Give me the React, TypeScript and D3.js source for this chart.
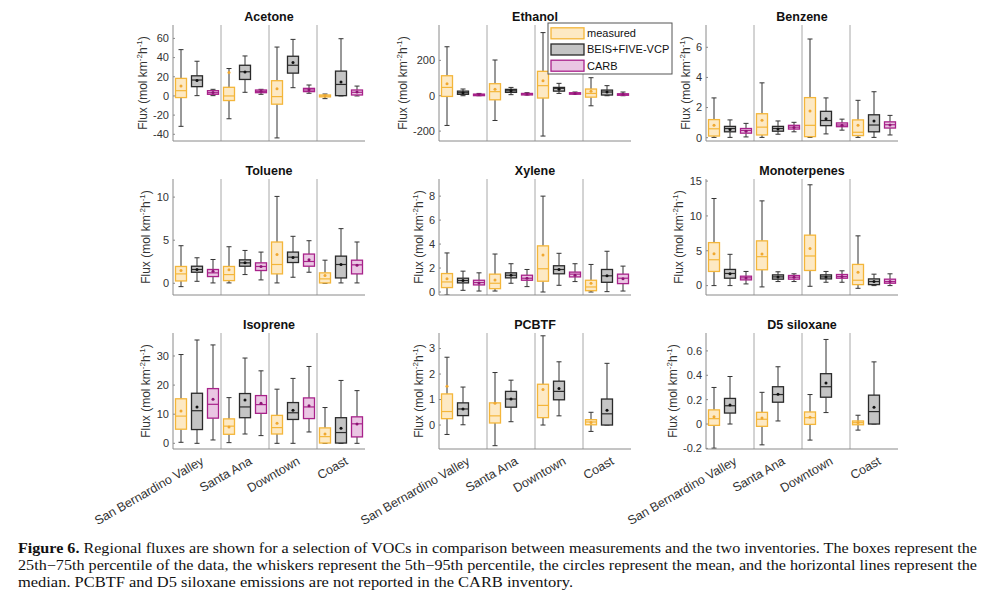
import React from "react";
import * as d3 from "d3";

const regions = ["San Bernardino Valley", "Santa Ana", "Downtown", "Coast"];
const seriesNames = ["measured", "BEIS+FIVE-VCP", "CARB"];

// each row: [p5, q1, median, q3, p95, mean] per region
const acetoneMeasured = [[-31.7, -1.7, 5.5, 18.3, 48.3, 10.3], [-23.8, -4.8, 0, 9, 28.6, 24.5], [-43.8, -8.6, -0.7, 15.9, 51, 7.6], [-2.8, -1, 0, 1, 2, 0.3]];
const acetoneBeis = [[0.3, 9.7, 16.6, 21, 36.2, 16.2], [3.8, 17.2, 25.2, 32, 41.7, 25], [8.6, 23.8, 32, 41.4, 59, 34.8], [0, 0.3, 12, 25.9, 59.7, 14.5]];
const acetoneCarb = [[0.3, 1.7, 3.4, 5.5, 6.9, 3.5], [1.7, 3.4, 4.8, 6.2, 6.9, 4.8], [2.8, 4.5, 6.2, 7.9, 11.4, 6.5], [0, 1, 3.8, 6.2, 10.3, 4.2]];

const ethanolMeasured = [[-168, -4, 47, 113, 277, 68], [-140, -23, 23, 68, 202, 36], [-228, -13, 57, 138, 357, 85], [-57, -8, 13, 38, 102, 25]];
const ethanolBeis = [[0, 8, 17, 26, 38, 17], [6, 19, 28, 36, 47, 28], [13, 26, 42, 47, 70, 37], [0, 4, 21, 32, 57, 21]];
const ethanolCarb = [[0, 4, 7, 9, 13, 7], [4, 8, 9, 13, 17, 10], [8, 9, 13, 17, 21, 13], [0, 4, 8, 11, 21, 8]];

const benzeneMeasured = [[0.02, 0.11, 0.59, 1.2, 2.64, 0.82], [0.02, 0.18, 0.7, 1.59, 3.64, 1.16], [0.02, 0.07, 0.82, 2.66, 6.55, 1.77], [0.02, 0.14, 0.36, 1.18, 2.48, 0.82]];
const benzeneBeis = [[0.02, 0.39, 0.61, 0.75, 1.18, 0.55], [0.23, 0.43, 0.61, 0.75, 1.11, 0.58], [0.25, 0.8, 1.14, 1.75, 2.64, 1.25], [0.02, 0.39, 0.84, 1.52, 3.05, 1.11]];
const benzeneCarb = [[0.05, 0.3, 0.48, 0.61, 0.95, 0.42], [0.39, 0.57, 0.7, 0.82, 1.02, 0.68], [0.5, 0.73, 0.84, 0.98, 1.23, 0.82], [0.18, 0.64, 0.86, 1.05, 1.48, 0.84]];

const tolueneMeasured = [[-0.39, 0.27, 1.09, 1.95, 4.36, 1.48], [0.04, 0.31, 1.01, 1.95, 4.24, 1.56], [0.04, 1.09, 2.18, 4.79, 10.08, 3.35], [0, 0.04, 0.51, 1.21, 2.68, 0.89]];
const tolueneBeis = [[0.23, 1.28, 1.6, 1.98, 2.96, 1.6], [1.01, 1.98, 2.37, 2.72, 3.81, 2.37], [0.7, 2.41, 3.03, 3.62, 5.45, 3.0], [0.04, 0.62, 2.18, 3.15, 6.34, 2.18]];
const tolueneCarb = [[0.04, 0.78, 1.21, 1.6, 2.76, 1.4], [0.39, 1.48, 1.95, 2.37, 3.62, 1.95], [1.28, 1.98, 2.53, 3.39, 4.94, 2.72], [0.04, 1.09, 2.14, 2.68, 4.79, 2.1]];

const xyleneMeasured = [[-0.25, 0.37, 0.84, 1.54, 3.26, 1.1], [0.08, 0.28, 0.73, 1.49, 3.17, 1.0], [0, 0.9, 1.94, 3.85, 8.0, 3.09], [0, 0.11, 0.42, 0.98, 2.3, 0.73]];
const xyleneBeis = [[0.14, 0.76, 0.96, 1.15, 1.74, 0.96], [0.73, 1.18, 1.4, 1.6, 2.36, 1.4], [0.56, 1.52, 1.88, 2.19, 3.23, 1.88], [0.03, 0.81, 1.35, 1.88, 3.4, 1.35]];
const xyleneCarb = [[0.08, 0.59, 0.79, 0.98, 1.6, 0.76], [0.45, 0.98, 1.15, 1.4, 1.88, 1.15], [0.87, 1.26, 1.49, 1.66, 2.36, 1.4], [0.08, 0.7, 1.15, 1.49, 2.16, 1.1]];

const monoMeasured = [[0, 2.03, 3.71, 6.17, 12.5, 4.58], [-0.19, 2.27, 4.15, 6.42, 12.16, 4.53], [-0.1, 2.17, 4.25, 7.24, 14.47, 5.31], [-0.39, 0.14, 0.77, 3.04, 7.14, 1.93]];
const monoBeis = [[0, 1.06, 1.74, 2.32, 4.49, 1.7], [0.58, 0.92, 1.25, 1.54, 1.98, 1.25], [0.48, 0.96, 1.25, 1.54, 2.03, 1.25], [0, 0.14, 0.58, 0.96, 1.64, 0.58]];
const monoCarb = [[0.24, 0.82, 1.11, 1.35, 2.03, 1.1], [0.58, 0.92, 1.21, 1.45, 1.69, 1.2], [0.48, 1.06, 1.3, 1.59, 2.12, 1.3], [0, 0.34, 0.58, 0.92, 1.69, 0.6]];

const isopreneMeasured = [[0.35, 4.85, 9.35, 15.3, 30.5, 11.1], [0.23, 3.1, 5.9, 8.4, 15.7, 5.65], [0, 3.2, 5.4, 9.6, 18.6, 6.9], [0, 0.1, 2.3, 5.3, 12.3, 3.2]];
const isopreneBeis = [[0, 4.73, 11.2, 17.2, 35.5, 12.5], [3.2, 8.8, 12.5, 17.1, 29.3, 14.9], [0, 8.2, 10.5, 14, 22.3, 11.4], [0, 0.1, 3.7, 8.8, 21.6, 5.2]];
const isopreneCarb = [[1.15, 8.65, 13.4, 18.8, 33.8, 15.1], [2.65, 10.3, 13.3, 16.4, 24.9, 13.8], [3.9, 8.5, 12.5, 15.6, 26.4, 12.9], [0, 2.2, 6.7, 9.1, 18.1, 6.6]];

const pcbtfMeasured = [[-0.37, 0.25, 0.53, 1.22, 2.66, 1.52], [-0.81, 0.08, 0.36, 0.87, 2.06, 0.85], [0, 0.29, 0.77, 1.6, 3.5, 1.39], [-0.25, 0.01, 0.12, 0.21, 0.5, 0.1]];
const pcbtfBeis = [[0.01, 0.37, 0.63, 0.87, 1.49, 0.63], [0.13, 0.7, 1.02, 1.32, 1.76, 1.02], [0.36, 0.99, 1.32, 1.72, 2.48, 1.43], [0, 0, 0.44, 1.02, 2.42, 0.58]];

const d5Measured = [[-0.198, -0.011, 0.044, 0.116, 0.3, 0.06], [-0.171, -0.019, 0.039, 0.096, 0.26, 0.05], [-0.132, -0.003, 0.052, 0.099, 0.242, 0.055], [-0.05, -0.006, 0.011, 0.025, 0.072, 0.012]];
const d5Beis = [[0, 0.09, 0.15, 0.21, 0.39, 0.157], [0.025, 0.179, 0.242, 0.306, 0.47, 0.245], [0.094, 0.22, 0.306, 0.413, 0.694, 0.336], [0, 0, 0.102, 0.237, 0.51, 0.138]];

const acetoneTicks = [-40, -20, 0, 20, 40, 60];
const ethanolTicks = [-200, 0, 200];
const benzeneTicks = [0, 2, 4, 6];
const tolueneTicks = [0, 5, 10];
const xyleneTicks = [0, 2, 4, 6, 8];
const monoTicks = [0, 5, 10, 15];
const isopreneTicks = [0, 10, 20, 30];
const pcbtfTicks = [0, 1, 2, 3];
const d5Ticks = [-0.2, 0, 0.2, 0.4, 0.6];

const panels = [
  { title: "Acetone", domain: [-47, 74], ticks: acetoneTicks, data: [acetoneMeasured, acetoneBeis, acetoneCarb] },
  { title: "Ethanol", domain: [-256, 400], ticks: ethanolTicks, data: [ethanolMeasured, ethanolBeis, ethanolCarb] },
  { title: "Benzene", domain: [-0.22, 7.48], ticks: benzeneTicks, data: [benzeneMeasured, benzeneBeis, benzeneCarb] },
  { title: "Toluene", domain: [-1.36, 12.1], ticks: tolueneTicks, data: [tolueneMeasured, tolueneBeis, tolueneCarb] },
  { title: "Xylene", domain: [-0.25, 9.43], ticks: xyleneTicks, data: [xyleneMeasured, xyleneBeis, xyleneCarb] },
  { title: "Monoterpenes", domain: [-1.35, 15.3], ticks: monoTicks, data: [monoMeasured, monoBeis, monoCarb] },
  { title: "Isoprene", domain: [-1.95, 37.9], ticks: isopreneTicks, data: [isopreneMeasured, isopreneBeis, isopreneCarb] },
  { title: "PCBTF", domain: [-0.94, 3.61], ticks: pcbtfTicks, data: [pcbtfMeasured, pcbtfBeis, null] },
  { title: "D5 siloxane", domain: [-0.205, 0.747], ticks: d5Ticks, data: [d5Measured, d5Beis, null] },
];

const strokeColors = ["#F4B63A", "#2a2a2a", "#A8228A"];
const fillColors = ["#FDE9C4", "#C4C4C4", "#EAC6E3"];
const meanColors = ["#F0A830", "#111111", "#8E1474"];

const captionLines = [
  ["Figure 6.", " Regional fluxes are shown for a selection of VOCs in comparison between measurements and the two inventories. The boxes represent the"],
  ["", "25th\u221275th percentile of the data, the whiskers represent the 5th\u221295th percentile, the circles represent the mean, and the horizontal lines represent the"],
  ["", "median. PCBTF and D5 siloxane emissions are not reported in the CARB inventory."],
];

const colX = [173, 439, 706];
const rowY = [25, 179, 333];
const W = 192;
const H = 116;
const FONT = "'Liberation Sans', Arial, Helvetica, sans-serif";

function tickWidth(s: string) {
  let w = 0;
  for (const c of s) w += c === "-" ? 3.7 : c === "." ? 3.06 : 6.12;
  return w;
}

function Panel({ cfg, x0, y0, showX }: any) {
  const y = d3.scaleLinear().domain(cfg.domain).range([y0 + H, y0]);
  const xg = d3.scaleBand().domain(regions).range([x0, x0 + W]).padding(0);
  const xs = d3.scaleBand().domain(seriesNames).range([0, xg.bandwidth()]).padding(0);
  const bw = 11;
  const cap = 5;
  const maxTW = Math.max(...cfg.ticks.map((t: number) => tickWidth(String(t))));
  const labelX = x0 - (14.5 + maxTW);
  const clipId = "clip-" + cfg.title.replace(/\W/g, "");
  return (
    <g>
      <defs>
        <clipPath id={clipId}>
          <rect x={x0} y={y0} width={W + 2} height={H} />
        </clipPath>
      </defs>
      <text x={x0 + W / 2} y={y0 - 4} textAnchor="middle" fontFamily={FONT} fontWeight="bold" fontSize={12.5} fill="#111">
        {cfg.title}
      </text>
      {regions.slice(1).map((r) => (
        <line key={r} x1={xg(r)} x2={xg(r)} y1={y0} y2={y0 + H} stroke="#a8a8a8" strokeWidth={1} />
      ))}
      <g clipPath={`url(#${clipId})`}>
        {cfg.data.map((series: number[][] | null, si: number) =>
          series
            ? series.map((st, ri) => {
                const cx = (xg(regions[ri]) as number) + (xs(seriesNames[si]) as number) + xs.bandwidth() / 2;
                const [p5, q1, med, q3, p95, mean] = st;
                return (
                  <g key={si + "-" + ri}>
                    <line x1={cx} x2={cx} y1={y(p95)} y2={y(q3)} stroke="#333" strokeWidth={1} />
                    <line x1={cx} x2={cx} y1={y(q1)} y2={y(p5)} stroke="#333" strokeWidth={1} />
                    <line x1={cx - cap / 2} x2={cx + cap / 2} y1={y(p95)} y2={y(p95)} stroke="#333" strokeWidth={1} />
                    <line x1={cx - cap / 2} x2={cx + cap / 2} y1={y(p5)} y2={y(p5)} stroke="#333" strokeWidth={1} />
                    <rect
                      x={cx - bw / 2}
                      y={y(q3)}
                      width={bw}
                      height={Math.max(1.5, y(q1) - y(q3))}
                      fill={fillColors[si]}
                      stroke={strokeColors[si]}
                      strokeWidth={1.3}
                    />
                    <line x1={cx - bw / 2} x2={cx + bw / 2} y1={y(med)} y2={y(med)} stroke={strokeColors[si]} strokeWidth={1.2} />
                    <circle cx={cx} cy={y(mean)} r={1.5} fill={meanColors[si]} />
                  </g>
                );
              })
            : null
        )}
      </g>
      <line x1={x0} x2={x0} y1={y0} y2={y0 + H} stroke="#8a8a8a" strokeWidth={1} />
      <line x1={x0} x2={x0 + W} y1={y0 + H} y2={y0 + H} stroke="#8a8a8a" strokeWidth={1} />
      {cfg.ticks.map((t: number) => (
        <g key={t}>
          <line x1={x0} x2={x0 + 2} y1={y(t)} y2={y(t)} stroke="#8a8a8a" />
          <text x={x0 - 4} y={y(t)} dy="0.35em" textAnchor="end" fontFamily={FONT} fontSize={11} fill="#333">
            {String(t)}
          </text>
        </g>
      ))}
      <text
        transform={`translate(${labelX},${y0 + H / 2}) rotate(-90)`}
        textAnchor="middle"
        dy="0.35em"
        fontFamily={FONT}
        fontSize={12}
        fill="#333"
      >
        Flux (mol km
        <tspan fontSize={8} dy={-5}>-2</tspan>
        <tspan dy={5}>h</tspan>
        <tspan fontSize={8} dy={-5}>-1</tspan>
        <tspan dy={5}>)</tspan>
      </text>
      {showX &&
        regions.map((r) => (
          <text
            key={r}
            transform={`translate(${(xg(r) as number) + xg.bandwidth() / 2 + 4},${y0 + H + 8}) rotate(-30)`}
            textAnchor="end"
            dy="0.6em"
            fontFamily={FONT}
            fontSize={12.5}
            fill="#333"
          >
            {r}
          </text>
        ))}
    </g>
  );
}

function Legend() {
  const lx = 548;
  const ly = 23;
  const rows = [33.3, 49.5, 65.7];
  return (
    <g>
      <rect x={lx} y={ly} width={124} height={51} fill="#fff" stroke="#555" strokeWidth={1} />
      {seriesNames.map((s, i) => (
        <g key={s}>
          <rect x={551} y={rows[i] - 5.5} width={33} height={11} fill={fillColors[i]} stroke={strokeColors[i]} strokeWidth={1.3} />
          <text x={587} y={rows[i]} dy="0.35em" fontFamily={FONT} fontSize={11} fill="#111">
            {s}
          </text>
        </g>
      ))}
    </g>
  );
}

export default function App() {
  const baselines = [553, 570, 587];
  const lengths = [959, 959, 555];
  return (
    <svg width={995} height={597} style={{ position: "absolute", left: 0, top: 0, background: "#fff" }}>
      <rect width={995} height={597} fill="#fff" />
      {panels.map((p, i) => (
        <Panel key={p.title} cfg={p} x0={colX[i % 3]} y0={rowY[Math.floor(i / 3)]} showX={i >= 6} />
      ))}
      <Legend />
      {captionLines.map((ln, i) => (
        <text
          key={i}
          x={18}
          y={baselines[i]}
          fontFamily="'Liberation Serif', 'Times New Roman', serif"
          fontSize={14.5}
          fill="#111"
          textLength={lengths[i]}
          lengthAdjust="spacingAndGlyphs"
        >
          {ln[0] ? <tspan fontWeight="bold">{ln[0]}</tspan> : null}
          {ln[1]}
        </text>
      ))}
    </svg>
  );
}
